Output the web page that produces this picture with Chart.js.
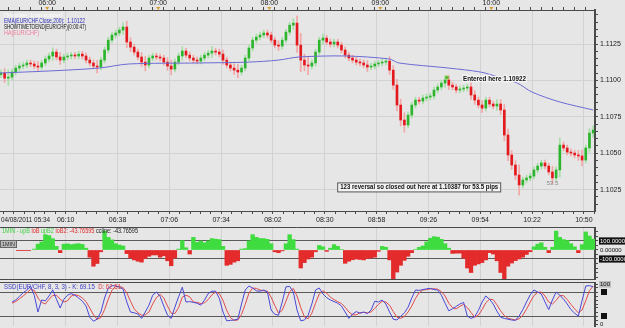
<!DOCTYPE html>
<html>
<head>
<meta charset="utf-8">
<script src="https://cdn.jsdelivr.net/npm/chart.js@4.4.1/dist/chart.umd.min.js"></script>
<style>
  html, body { margin: 0; padding: 0; background: #e6e6e6; overflow: hidden; }
  #wrap { position: relative; width: 625px; height: 328px; }
  canvas { position: absolute; left: 0; }
</style>
</head>
<body>
<div id="wrap">
  <canvas id="priceChart" width="625" height="227" style="top:0"></canvas>
  <canvas id="cciChart" width="625" height="54" style="top:227px"></canvas>
  <canvas id="ssdChart" width="625" height="47" style="top:281px"></canvas>
</div>
<script>
// 2-minute Heikin-Ashi bars, EUR/CHF, 04/08/2011
const barStart = "05:34";
const barMinutes = 2;
const firstOpen = 1.11040;
const closes = [
  1.11051, 1.11016, 1.11023, 1.11058, 1.11085, 1.11099, 1.11106, 1.11120, 1.11113, 1.11099,
  1.11092, 1.11120, 1.11147, 1.11168, 1.11195, 1.11161, 1.11140, 1.11161, 1.11168, 1.11174,
  1.11168, 1.11181, 1.11168, 1.11140, 1.11120, 1.11099, 1.11092, 1.11140, 1.11209, 1.11277,
  1.11312, 1.11326, 1.11346, 1.11367, 1.11264, 1.11229, 1.11195, 1.11161, 1.11126, 1.11106,
  1.11154, 1.11168, 1.11161, 1.11154, 1.11126, 1.11099, 1.11078, 1.11126, 1.11168, 1.11202,
  1.11174, 1.11154, 1.11140, 1.11133, 1.11154, 1.11174, 1.11188, 1.11202, 1.11195, 1.11181,
  1.11140, 1.11106, 1.11085, 1.11071, 1.11058, 1.11085, 1.11154, 1.11223, 1.11277, 1.11298,
  1.11312, 1.11326, 1.11312, 1.11277, 1.11243, 1.11236, 1.11277, 1.11332, 1.11380, 1.11394,
  1.11243, 1.11140, 1.11106, 1.11099, 1.11120, 1.11195, 1.11277, 1.11291, 1.11264, 1.11250,
  1.11264, 1.11243, 1.11209, 1.11174, 1.11154, 1.11140, 1.11126, 1.11120, 1.11106, 1.11092,
  1.11099, 1.11113, 1.11120, 1.11126, 1.11133, 1.11071, 1.10968, 1.10831, 1.10728, 1.10694,
  1.10762, 1.10831, 1.10865, 1.10858, 1.10879, 1.10886, 1.10893, 1.10934, 1.10955, 1.10982,
  1.11003, 1.10968, 1.10955, 1.10934, 1.10941, 1.10948, 1.10955, 1.10900, 1.10865, 1.10831,
  1.10810, 1.10865, 1.10838, 1.10824, 1.10838, 1.10797, 1.10625, 1.10488, 1.10419, 1.10350,
  1.10282, 1.10316, 1.10330, 1.10343, 1.10385, 1.10412, 1.10433, 1.10412, 1.10371, 1.10330,
  1.10385, 1.10556, 1.10536, 1.10508, 1.10501, 1.10488, 1.10481, 1.10453, 1.10536, 1.10639,
  1.10659
];
const wickPips = [
  2, 3, 5, 2, 2, 2, 2, 2, 2, 2,
  3, 2, 2, 2, 3, 2, 3, 2, 2, 2,
  2, 2, 2, 2, 2, 2, 4, 2, 2, 2,
  2, 2, 2, 3, 4, 3, 2, 2, 3, 4,
  2, 2, 2, 2, 2, 3, 4, 2, 2, 3,
  2, 2, 2, 2, 2, 2, 2, 3, 2, 2,
  3, 2, 2, 3, 4, 2, 2, 2, 2, 2,
  2, 2, 2, 2, 2, 3, 2, 2, 2, 3,
  5, 8, 4, 6, 2, 2, 2, 3, 2, 2,
  2, 2, 2, 2, 2, 2, 2, 2, 2, 3,
  2, 2, 2, 2, 2, 3, 3, 4, 4, 5,
  2, 2, 2, 2, 2, 2, 2, 2, 2, 2,
  3, 3, 2, 2, 2, 2, 2, 3, 3, 2,
  3, 2, 2, 2, 3, 3, 4, 4, 3, 3,
  7, 2, 2, 2, 2, 2, 2, 2, 2, 4,
  2, 5, 2, 2, 2, 2, 3, 4, 2, 3,
  3
];
const emaTimes = ["05:34", "06:01", "06:28", "06:44", "07:22", "07:49", "08:05", "08:16", "08:41",
  "09:05", "09:10", "09:37", "09:54", "10:04", "10:14", "10:22", "10:37", "10:55"];
const emaValues = [1.11051, 1.11065, 1.11085, 1.11113, 1.11120, 1.11126, 1.11140, 1.11161, 1.11168,
  1.11147, 1.11120, 1.11085, 1.11058, 1.11023, 1.10982, 1.10920, 1.10852, 1.10797];

// CCI histogram, same 2-minute bars
const cciValues = [
  null, null, null, null, null, null, null, null, null, 10,
  65, 90, 170, 160, 126, 40, -30, 65, 68, 60,
  66, 70, 62, 20, -80, -180, -150, -20, 210, 140,
  112, 70, 55, 45, -40, -90, -110, -125, -135, -95,
  -70, -55, -55, -80, -65, -120, -175, -90, 10, 104,
  25, -45, 140, 85, 100, 80, 100, 126, 120, 115,
  40, -170, -160, -135, -120, 10, 15, 100, 170, 140,
  128, 126, 118, 70, -20, -30, -10, 70, 170, 115,
  10, -200, -140, -100, -80, -20, 50, 35, -15, 20,
  60, 40, 5, -148, -125, -108, -100, -105, -110, -95,
  -88, -80, -15, 40, 30, -110, -360, -245, -170, -115,
  -70, -30, 5, 30, 45, 90, 130, 148, 142, 118,
  70, 20, -38, -35, -35, -90, -200, -250, -170, -155,
  -140, -110, -30, -45, -120, -250, -360, -180, -145, -118,
  -100, -80, -50, -20, 35, 65, 80, 30, -30, 30,
  210, 140, 115, 105, 70, 35, -30, 60, 200, 155,
  120
];

// slow stochastic (8, 3, 3)
const stochK = [
  null, null, null, 55, 60, 69, 78, 85, 94, 72,
  30, 60, 58, 70, 85, 62, 40, 62, 72, 76,
  72, 65, 57, 45, 17, 7, 12, 30, 65, 90,
  96, 95, 92, 87, 55, 30, 28, 25, 14, 30,
  47, 72, 80, 69, 45, 22, 14, 42, 68, 92,
  55, 56, 54, 52, 47, 60, 76, 82, 82, 64,
  30, 8, 9, 10, 12, 50, 85, 95, 90, 83,
  82, 85, 80, 35, 24, 22, 55, 93, 94, 80,
  35, 8, 10, 22, 50, 85, 90, 75, 66, 60,
  56, 52, 45, 30, 14, 25, 31, 27, 30, 26,
  35, 57, 55, 60, 50, 30, 12, 10, 19, 28,
  42, 65, 85, 84, 86, 88, 89, 86, 85, 72,
  52, 33, 38, 44, 50, 54, 20, 14, 18, 34,
  55, 70, 62, 50, 32, 17, 14, 12, 10, 9,
  20, 36, 55, 73, 85, 80, 75, 55, 36, 60,
  80, 72, 62, 50, 36, 27, 20, 58, 95, 96,
  93
];
const stochD = [
  null, null, null, 52, 56, 63, 70, 78, 86, 84,
  65, 54, 50, 62, 71, 72, 62, 55, 58, 70,
  73, 71, 65, 56, 40, 23, 12, 16, 36, 62,
  84, 94, 94, 91, 78, 57, 38, 28, 22, 23,
  30, 50, 66, 74, 65, 45, 27, 26, 41, 67,
  72, 68, 55, 54, 51, 53, 61, 73, 80, 76,
  59, 34, 16, 9, 10, 24, 49, 77, 90, 89,
  85, 83, 82, 67, 46, 27, 34, 57, 81, 89,
  70, 41, 18, 13, 27, 52, 75, 83, 77, 67,
  61, 56, 51, 42, 30, 23, 23, 28, 29, 28,
  30, 39, 49, 57, 55, 47, 31, 17, 14, 19,
  30, 45, 64, 78, 85, 86, 88, 88, 87, 81,
  70, 52, 41, 38, 44, 49, 41, 29, 17, 22,
  36, 53, 62, 61, 48, 33, 21, 14, 12, 10,
  13, 22, 37, 55, 71, 79, 80, 70, 55, 50,
  59, 71, 71, 61, 49, 38, 28, 35, 58, 83,
  95
];

const priceTicks = [1.1025, 1.1050, 1.1075, 1.1100, 1.1125];
const hourLabels = ["06:00", "07:00", "08:00", "09:00", "10:00"];
const timeLabels = ["06:10", "06:38", "07:06", "07:34", "08:02", "08:30", "08:58", "09:26", "09:54", "10:22", "10:50"];

const toMin = s => { const [h, m] = s.split(":").map(Number); return h * 60 + m; };
const fmt = v => String(Math.floor(v / 60)).padStart(2, "0") + ":" + String(Math.round(v % 60)).padStart(2, "0");

const xMin = 334.5, xMax = 656;
const t0 = toMin(barStart);
const barX = closes.map((c, i) => t0 + i * barMinutes + 1);
const opens = closes.map((c, i) => (i ? closes[i - 1] : firstOpen));

const gridColor = "#d2d2d2";
const frameColor = "#4a4a4a";
const tickFont = { family: "Liberation Sans", size: 7 };
const smallFont = { family: "Liberation Sans", size: 6 };

// no extra label padding around the plot areas
const noPad = s => { s.paddingTop = 0; s.paddingBottom = 0; s.paddingLeft = 0; s.paddingRight = 0; };

// bottom time axis: major lines every 28 min, minor ticks in between
const timeStep = 28;
const timeFirst = toMin(timeLabels[0]) - timeStep;
const isMajorTime = v => Math.abs((v - timeFirst) / timeStep - Math.round((v - timeFirst) / timeStep)) < 1e-6;
function timeTicks(scale) {
  const t = [];
  for (let k = -1; timeFirst + k * timeStep / 5 <= xMax; k++) t.push({ value: timeFirst + k * timeStep / 5 });
  scale.ticks = t;
}
function timeLabel(v) {
  const hit = timeLabels.find(s => Math.abs(toMin(s) - v) < 0.01);
  return hit || "";
}
function lowerX() {
  return {
    type: "linear", min: xMin, max: xMax, offset: false,
    afterBuildTicks: timeTicks,
    afterFit: s => { s.height = 0; noPad(s); },
    ticks: { display: false, autoSkip: false },
    grid: { offset: false, drawTicks: false, color: c => (isMajorTime(c.tick.value) ? gridColor : "transparent") },
    border: { display: false }
  };
}

function drawSegs(ctx, segs, x, y, width, font, halo) {
  ctx.save();
  ctx.font = font;
  ctx.textBaseline = "middle";
  ctx.textAlign = "left";
  const natural = segs.reduce((s, sg) => s + ctx.measureText(sg[0]).width, 0);
  ctx.translate(x, y);
  ctx.scale(width / natural, 1);
  let cx = 0;
  segs.forEach(([t, col]) => {
    if (halo) { ctx.strokeStyle = halo; ctx.lineWidth = 2.5; ctx.strokeText(t, cx, 0); }
    ctx.fillStyle = col;
    ctx.fillText(t, cx, 0);
    cx += ctx.measureText(t).width;
  });
  ctx.restore();
}

const priceNotes = {
  id: "priceNotes",
  afterDatasetsDraw(chart) {
    const { ctx, scales } = chart;
    const x = scales.x, y = scales.y, xt = scales.xTop;
    // indicator legends
    drawSegs(ctx, [["[Template: 1min scalper]", "rgba(255,255,255,0.95)"]], 4, 15, 58, "6px Liberation Sans");
    drawSegs(ctx, [["EMA(EUR/CHF.Close,200):  1.10122", "#2c2cb4"]], 4, 21, 81, "7px Liberation Sans");
    drawSegs(ctx, [["SHOWTIMETOEND(EUR/CHF)(0:00:47)", "#111"]], 4, 27, 82, "7px Liberation Sans");
    drawSegs(ctx, [["HA(EUR/CHF)", "#f07a9a"]], 4, 33, 35, "7px Liberation Sans");

    // entry marker
    const ex = x.getPixelForValue(toMin("09:36")), ey = y.getPixelForValue(1.1102);
    ctx.fillStyle = "#66bb33";
    ctx.beginPath(); ctx.arc(ex, ey, 2, 0, Math.PI * 2); ctx.fill();
    drawSegs(ctx, [["Entered here 1.10922", "#111"]], ex + 16, ey + 2, 63, "bold 7px Liberation Sans", "#f4f4f4");

    // exit note
    const bx = x.getPixelForValue(toMin("09:21")), by = y.getPixelForValue(1.10265);
    ctx.fillStyle = "#f3f3f3";
    ctx.fillRect(bx - 82, by - 4.5, 164, 9);
    ctx.strokeStyle = "#555";
    ctx.lineWidth = 1;
    ctx.strokeRect(bx - 81.5, by - 4.5, 163, 9);
    drawSegs(ctx, [["123 reversal so closed out here at 1.10387 for 53.5 pips", "#111"]], bx - 79, by, 158, "bold 7px Liberation Sans");
    const px = x.getPixelForValue(toMin("10:33")), py = y.getPixelForValue(1.1029);
    drawSegs(ctx, [["53.5", "#8a8a8a"]], px - 6, py, 12, "6px Liberation Sans");

    // hour markers on top axis
    ctx.fillStyle = "#d49a2a";
    hourLabels.forEach(h => {
      const hx = xt.getPixelForValue(toMin(h));
      ctx.beginPath(); ctx.moveTo(hx - 2, 7); ctx.lineTo(hx + 2, 7); ctx.lineTo(hx, 10); ctx.closePath(); ctx.fill();
    });
    // first date label of the bottom axis
    drawSegs(ctx, [["04/08/2011 05:34", "#222"]], 1, chart.chartArea.bottom + 9, 49, "7px Liberation Sans");
  }
};

new Chart(document.getElementById("priceChart"), {
  type: "bar",
  data: {
    datasets: [
      {
        label: "wicks",
        data: closes.map((c, i) => {
          const w = wickPips[i] * 0.0001;
          return { x: barX[i], y: [Math.min(opens[i], c) - w, Math.max(opens[i], c) + w] };
        }),
        backgroundColor: closes.map((c, i) => (c >= opens[i] ? "#a6dfa6" : "#f2a6a6")),
        barThickness: 1, grouped: false, order: 3
      },
      {
        label: "HA(EUR/CHF)",
        data: closes.map((c, i) => ({ x: barX[i], y: [opens[i], c] })),
        backgroundColor: closes.map((c, i) => (c >= opens[i] ? "#2db42d" : "#e3191e")),
        barThickness: 2, minBarLength: 1, grouped: false, order: 2
      },
      {
        type: "line",
        label: "EMA(EUR/CHF.Close,200)",
        data: emaTimes.map((t, i) => ({ x: toMin(t), y: emaValues[i] })),
        borderColor: "#6b6bd4", borderWidth: 1, pointRadius: 0, tension: 0.3, order: 1
      }
    ]
  },
  options: {
    responsive: false, animation: false, devicePixelRatio: 1,
    layout: { padding: 0 },
    plugins: { legend: { display: false }, tooltip: { enabled: false } },
    scales: {
      x: {
        type: "linear", position: "bottom", min: xMin, max: xMax, offset: false,
        afterBuildTicks: timeTicks,
        afterFit: s => { s.height = 16; noPad(s); },
        ticks: { callback: timeLabel, font: tickFont, color: "#222", maxRotation: 0, autoSkip: false, padding: 2 },
        grid: { offset: false, color: c => (isMajorTime(c.tick.value) ? gridColor : "transparent"), tickColor: frameColor, tickLength: 3 },
        border: { color: frameColor, width: 1 }
      },
      xTop: {
        type: "linear", position: "top", min: xMin, max: xMax, offset: false,
        afterBuildTicks: s => { const t = []; for (let v = 336; v <= xMax; v += 6) t.push({ value: v }); s.ticks = t; },
        afterFit: s => { s.height = 10; noPad(s); },
        ticks: { callback: v => (hourLabels.includes(fmt(v)) ? fmt(v) : ""), font: tickFont, color: "#222", maxRotation: 0, autoSkip: false, padding: 0 },
        grid: { drawOnChartArea: false, tickColor: frameColor, tickLength: 3 },
        border: { color: frameColor, width: 1 }
      },
      y: {
        position: "right", min: 1.10103, max: 1.11484, beginAtZero: false,
        afterBuildTicks: s => { const t = []; for (let k = 0; k <= 26; k++) t.push({ value: 1.1015 + k * 0.0005 }); s.ticks = t; },
        afterFit: s => { s.width = 30; noPad(s); },
        ticks: { callback: v => (priceTicks.some(p => Math.abs(p - v) < 1e-7) ? v.toFixed(4) : ""), font: tickFont, color: "#222", padding: 2, autoSkip: false },
        grid: { color: c => (priceTicks.some(p => Math.abs(p - c.tick.value) < 1e-7) ? gridColor : "transparent"), tickColor: frameColor, tickLength: 3 },
        border: { color: frameColor, width: 2 }
      }
    }
  },
  plugins: [priceNotes]
});

// CCI panel
const cciNotes = {
  id: "cciNotes",
  afterDatasetsDraw(chart) {
    const { ctx, chartArea } = chart;
    ctx.save();
    ctx.strokeStyle = frameColor;
    ctx.lineWidth = 1;
    ctx.beginPath();
    ctx.moveTo(0, chartArea.top - 0.5); ctx.lineTo(chartArea.right, chartArea.top - 0.5);
    ctx.moveTo(0, chartArea.bottom + 0.5); ctx.lineTo(chartArea.right, chartArea.bottom + 0.5);
    ctx.stroke();
    const zy = chart.scales.y.getPixelForValue(0);
    ctx.strokeStyle = "#e04a4a";
    ctx.beginPath(); ctx.moveTo(16, zy + 0.5); ctx.lineTo(31, zy + 0.5); ctx.stroke();
    const ty = chart.scales.y.getPixelForValue(100);
    ctx.fillStyle = "#b9b9b9";
    ctx.fillRect(0, ty - 1, 17, 8);
    ctx.strokeStyle = "#666";
    ctx.strokeRect(0.5, ty - 0.5, 16, 7);
    ctx.restore();
    drawSegs(ctx, [["1MIN", "#333"]], 2, ty + 3, 13, "6px Liberation Sans");
    drawSegs(ctx, [
      ["1MIN - upB", "#3fcf3f"], [" loB", "#e02a2a"], [" upB2", "#3fcf3f"],
      [" loB2: -43.76595", "#e02a2a"], [" ccline: -43.76595", "#222"]
    ], 2, chartArea.top + 3, 136, "7px Liberation Sans");
  }
};

new Chart(document.getElementById("cciChart"), {
  type: "bar",
  data: {
    datasets: [{
      label: "ccline",
      data: cciValues.map((v, i) => ({ x: barX[i], y: v })),
      backgroundColor: c => (c.raw && c.raw.y < 0 ? "#e42b2b" : "#3fdc3f"),
      barPercentage: 1, categoryPercentage: 1, borderWidth: 0
    }]
  },
  options: {
    responsive: false, animation: false, devicePixelRatio: 1,
    layout: { padding: { top: 1, bottom: 2, left: 0, right: 0 } },
    plugins: { legend: { display: false }, tooltip: { enabled: false } },
    scales: {
      x: lowerX(),
      y: {
        position: "right", min: -322, max: 244, beginAtZero: false,
        afterBuildTicks: s => { const t = []; for (let v = -300; v <= 200; v += 50) t.push({ value: v }); s.ticks = t; },
        afterFit: s => { s.width = 30; noPad(s); },
        ticks: {
          callback: v => (v === 0 ? "0.00000" : Math.abs(v) === 100 ? v.toFixed(4) : ""),
          font: smallFont, padding: 2, autoSkip: false,
          color: c => (c.tick.value === 0 ? "#111" : "#fff"),
          showLabelBackdrop: true,
          backdropColor: c => (Math.abs(c.tick.value) === 100 ? "#111" : "transparent"),
          backdropPadding: { x: 1, y: 0 }
        },
        grid: { color: c => (Math.abs(c.tick.value) === 100 ? "#5a5a5a" : "transparent"), tickColor: frameColor, tickLength: 3 },
        border: { color: frameColor, width: 2 }
      }
    }
  },
  plugins: [cciNotes]
});

// stochastic panel
const ssdNotes = {
  id: "ssdNotes",
  afterDatasetsDraw(chart) {
    const { ctx, chartArea } = chart;
    const y = chart.scales.y;
    ctx.save();
    ctx.strokeStyle = frameColor;
    ctx.lineWidth = 1;
    ctx.beginPath();
    ctx.moveTo(0, chartArea.top - 0.5); ctx.lineTo(chartArea.right, chartArea.top - 0.5);
    ctx.stroke();
    ctx.fillStyle = "#111";
    [80, 20].forEach(v => ctx.fillRect(chartArea.right + 6, y.getPixelForValue(v) - 3, 6, 6));
    ctx.restore();
    drawSegs(ctx, [["SSD(EUR/CHF, 8, 3, 3) - K: 69.15", "#3c3cc6"], ["  D: 62.51", "#e03a3a"]],
      4, chartArea.top + 4, 117, "7px Liberation Sans");
  }
};

new Chart(document.getElementById("ssdChart"), {
  type: "line",
  data: {
    datasets: [
      { label: "K", data: stochK.map((v, i) => ({ x: barX[i], y: v })), borderColor: "#4848d8", borderWidth: 1, pointRadius: 0 },
      { label: "D", data: stochD.map((v, i) => ({ x: barX[i], y: v })), borderColor: "#e24a4a", borderWidth: 1, pointRadius: 0 }
    ]
  },
  options: {
    responsive: false, animation: false, devicePixelRatio: 1,
    layout: { padding: { top: 2, bottom: 2, left: 0, right: 0 } },
    plugins: { legend: { display: false }, tooltip: { enabled: false } },
    scales: {
      x: lowerX(),
      y: {
        position: "right", min: -5, max: 102.5,
        afterBuildTicks: s => { const t = []; for (let v = 0; v <= 100; v += 10) t.push({ value: v }); s.ticks = t; },
        afterFit: s => { s.width = 30; noPad(s); },
        ticks: {
          callback: v => (v === 100 || v === 0 ? String(v) : ""),
          font: smallFont, color: "#111", padding: 2, autoSkip: false,
          showLabelBackdrop: true,
          backdropColor: c => (c.tick.value === 100 ? "#bdbdbd" : "transparent"),
          backdropPadding: { x: 1, y: 0 }
        },
        grid: { color: c => (c.tick.value === 80 || c.tick.value === 20 ? "#5a5a5a" : "transparent"), tickColor: frameColor, tickLength: 3 },
        border: { color: frameColor, width: 2 }
      }
    }
  },
  plugins: [ssdNotes]
});
</script>
</body>
</html>
